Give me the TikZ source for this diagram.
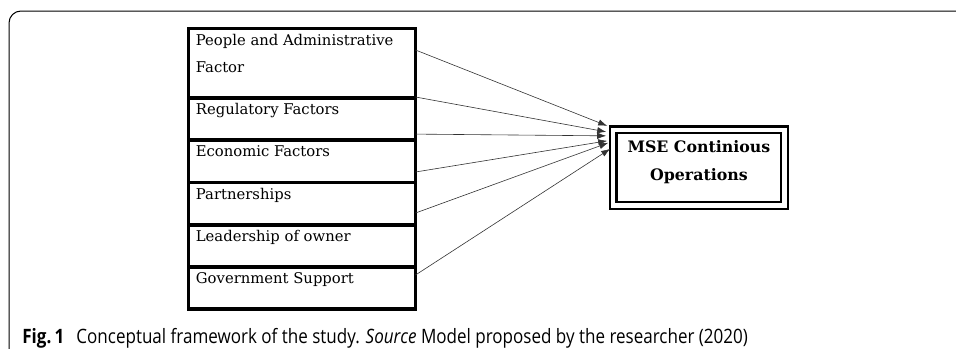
\documentclass[tikz,border=0pt]{standalone}
\usepackage{fontspec}
\setmainfont{DejaVu Serif}
\newfontfamily\capfont[FakeStretch=0.86]{Open Sans}
\usetikzlibrary{positioning,arrows.meta}

\begin{document}
\begin{tikzpicture}[
      x=0.5pt, y=-0.5pt,
      font=\fontsize{7.4}{13.5}\selectfont,
      factor/.style={draw, line width=1.9pt, outer sep=0pt, inner sep=0pt,
        minimum width=113.5pt, minimum height=21.1pt},
      ftext/.style={anchor=north west, inner sep=0pt, align=left,
        xshift=3.5pt, yshift=-2.5pt},
      outcome/.style={draw, double, line width=1.1pt, double distance=2.1pt,
        inner sep=0pt, minimum width=85.6pt, minimum height=37.9pt},
      otext/.style={anchor=center, inner sep=0pt, align=center, yshift=2.8pt,
        font=\bfseries\fontsize{7.9}{14}\selectfont},
      link/.style={-{Latex[length=4.5pt,width=3.2pt]}, line width=0.3pt, draw=black!80}
    ]
      \useasboundingbox (0,0) rectangle (956,348);

      % frame of the figure
      \draw[line width=0.5pt, rounded corners=6pt] (9,349) -- (9,11) -- (957,11);

      % the factors, one box under the other
      \node[factor, minimum height=34.75pt, anchor=north west,
        label={[ftext]north west:People and Administrative\\Factor}]
        (b1) at (188.5,28.5) {};
      \node[factor, below=0pt of b1,
        label={[ftext]north west:Regulatory Factors}] (b2) {};
      \node[factor, below=0pt of b2,
        label={[ftext]north west:Economic Factors}] (b3) {};
      \node[factor, below=0pt of b3,
        label={[ftext]north west:Partnerships}] (b4) {};
      \node[factor, below=0pt of b4,
        label={[ftext]north west:Leadership of owner}] (b5) {};
      \node[factor, below=0pt of b5,
        label={[ftext]north west:Government Support}] (b6) {};

      % dependent variable
      \node[outcome, label={[otext]center:MSE Continious\\Operations}]
        (mse) at (698.9,167.6) {};

      % links into the outcome box
      \draw[link] ([shift={(0,-13.25)}]b1.east) -- ([shift={(-5,-2.75)}]mse.north west);
      \draw[link] ([shift={(0,-1)}]b2.north east) -- ([shift={(-6,3.25)}]mse.north west);
      \draw[link] ([shift={(0,15)}]b2.east) -- ([shift={(-6,7.25)}]mse.north west);
      \draw[link] ([shift={(0,10.7)}]b3.east) -- ([shift={(-5,12.25)}]mse.north west);
      \draw[link] ([shift={(0,9.5)}]b4.east) -- ([shift={(-4,14.25)}]mse.north west);
      \draw[link] ([shift={(0,-12.9)}]b6.east) -- ([shift={(-2,20.25)}]mse.north west);

      % caption
      \node[anchor=base west, inner sep=0pt, font=\capfont\fontsize{9.9}{11}\selectfont]
        (cap) at (22,343)
        {\textbf{Fig.\,1}\hspace{6pt}Conceptual framework of the study. \textit{Source} Model proposed by the researcher (2020)};
    \end{tikzpicture}
\end{document}
